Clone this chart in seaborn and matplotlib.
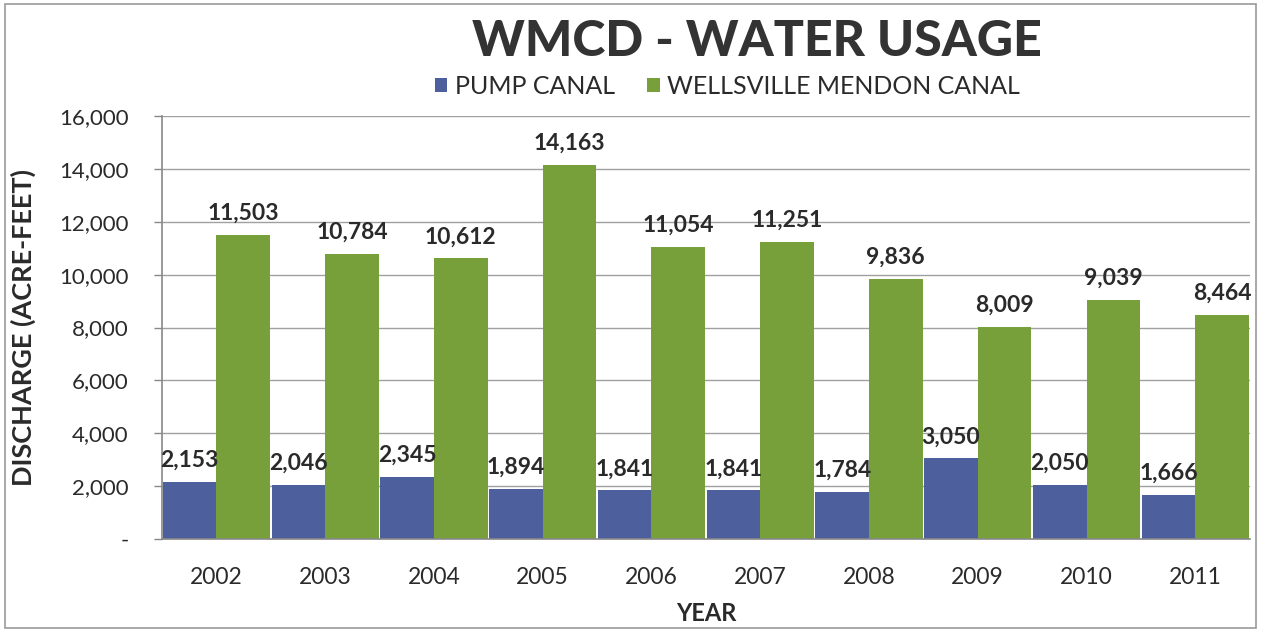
import matplotlib
matplotlib.use("Agg")
import matplotlib.pyplot as plt
import seaborn as sns
import pandas as pd
from matplotlib.patches import Rectangle
from matplotlib.ticker import FuncFormatter

years = ["2002", "2003", "2004", "2005", "2006", "2007", "2008", "2009", "2010", "2011"]
pump_canal = [2153, 2046, 2345, 1894, 1841, 1841, 1784, 3050, 2050, 1666]
wellsville_mendon = [11503, 10784, 10612, 14163, 11054, 11251, 9836, 8009, 9039, 8464]
series_names = ["PUMP CANAL", "WELLSVILLE MENDON CANAL"]
colors = ["#4d5f9c", "#77a03b"]

df = pd.DataFrame({
    "year": years * 2,
    "value": pump_canal + wellsville_mendon,
    "series": [series_names[0]] * len(years) + [series_names[1]] * len(years),
})

sns.set_theme(style="white")
plt.rcParams["font.family"] = ["Lato", "DejaVu Sans"]
text_color = "#2a2a2a"

fig = plt.figure(figsize=(12.61, 6.32), dpi=100)
ax = fig.add_axes([0.1285, 0.147, 0.8625, 0.6695])

sns.barplot(data=df, x="year", y="value", hue="series", palette=colors,
            width=0.985, gap=0, saturation=1, linewidth=0, ax=ax, legend=True)

ax.set_xlim(-0.5, 9.5)
ax.set_ylim(0, 16000)
ax.set_yticks(range(0, 16001, 2000))
ax.yaxis.set_major_formatter(FuncFormatter(lambda v, p: "-" if v == 0 else f"{int(v):,}"))
ax.yaxis.grid(True, color="#a0a0a0", linewidth=1.0)
ax.set_axisbelow(True)
ax.tick_params(axis="y", left=True, length=6, width=1, color="#888888",
               labelsize=16, labelcolor=text_color, pad=18)
ax.tick_params(axis="x", bottom=False, labelsize=16.5, labelcolor=text_color, pad=14)

for s in ["top", "right"]:
    ax.spines[s].set_visible(False)
for s in ["left", "bottom"]:
    ax.spines[s].set_color("#888888")
    ax.spines[s].set_linewidth(1.2)

ax.set_xlabel("YEAR", fontsize=17, fontweight="bold", color=text_color, labelpad=10)
ax.set_ylabel("DISCHARGE (ACRE-FEET)", fontsize=19.5, fontweight="bold", color=text_color)
ax.yaxis.set_label_coords(-0.116, 0.5)

for cont in ax.containers:
    ax.bar_label(cont, labels=[f"{int(v):,}" for v in cont.datavalues], padding=8,
                 fontsize=16.5, fontweight="bold", color=text_color)

leg = ax.legend(loc="lower center", bbox_to_anchor=(0.52, 0.99), ncol=2, frameon=False,
                fontsize=18, handlelength=0.5, handleheight=0.5, handletextpad=0.3,
                columnspacing=1.3, labelcolor=text_color)

fig.text(0.6, 0.935, "WMCD - WATER USAGE", ha="center", va="center",
         fontsize=36, fontweight="black", color="#333333")

fig.patches.append(Rectangle((0.004, 0.006), 0.992, 0.988, transform=fig.transFigure,
                             fill=False, edgecolor="#999999", linewidth=1.2))

fig.savefig("out.png", dpi=100, facecolor="white")
